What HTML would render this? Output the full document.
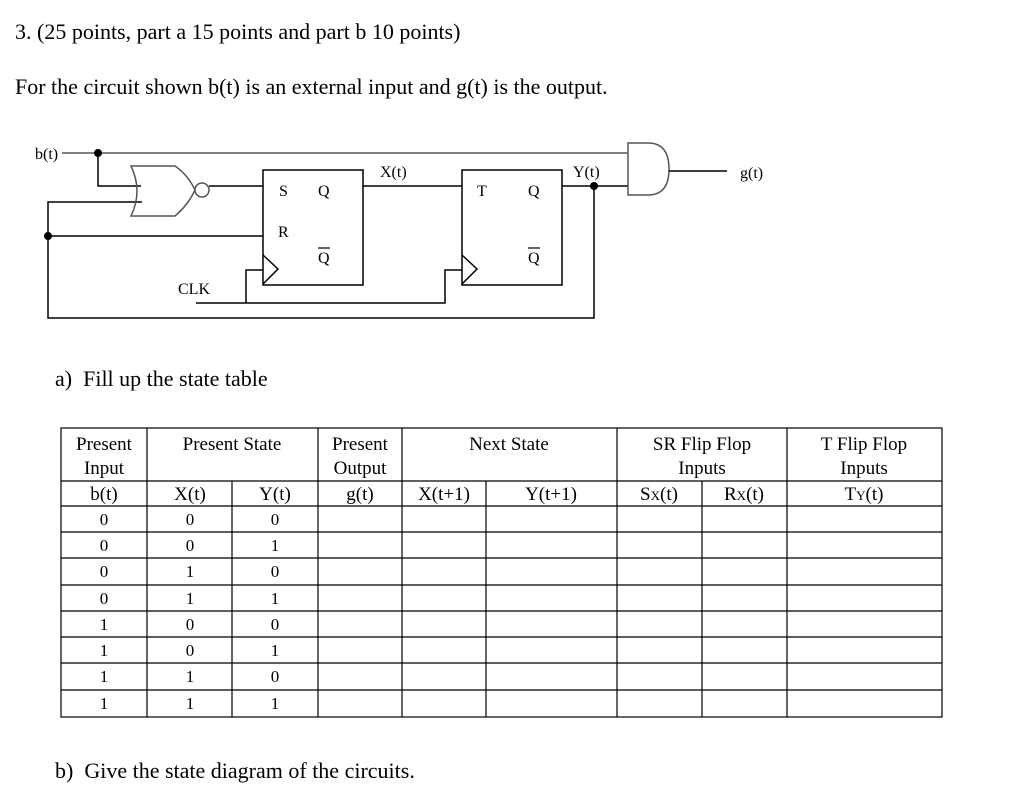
<!DOCTYPE html>
<html><head><meta charset="utf-8"><style>
html,body{margin:0;padding:0;background:#fff;}
svg, svg text{font-family:"Liberation Serif","Times New Roman","DejaVu Serif",serif !important;}
svg{display:block;}
</style></head><body>
<svg width="1024" height="807" viewBox="0 0 1024 807" xmlns="http://www.w3.org/2000/svg" font-family="Liberation Serif, Times New Roman, serif">
<g fill="#000" font-size="22">
<text x="15" y="39">3. (25 points, part a 15 points and part b 10 points)</text>
<text x="15" y="94">For the circuit shown b(t) is an external input and g(t) is the output.</text>
<text x="55" y="386">a)&#160;&#160;Fill up the state table</text>
<text x="55" y="778">b)&#160;&#160;Give the state diagram of the circuits.</text>
</g>
<!-- circuit -->
<g stroke="#000" stroke-width="1.5" fill="none">
<line x1="62" y1="153" x2="628" y2="153" stroke="#555"/>
<polyline points="98,153 98,186 141,186"/>
<polyline points="142,202 48,202 48,318 594,318 594,186"/>
<line x1="48" y1="236" x2="263" y2="236"/>
<path d="M131,166 L175,166 Q188,175 195,190 Q188,205 175,216 L131,216 Q143,191 131,166 Z" stroke="#555"/>
<circle cx="202" cy="190" r="7" stroke="#555"/>
<line x1="209" y1="186" x2="263" y2="186"/>
<rect x="263" y="170" width="100" height="115"/>
<polyline points="263,255 278,269 263,284"/>
<line x1="363" y1="186" x2="462" y2="186"/>
<rect x="462" y="170" width="100" height="115"/>
<polyline points="462,255 477,269 462,284"/>
<polyline points="196,303 445,303 445,270 462,270"/>
<polyline points="246,303 246,270 263,270"/>
<line x1="562" y1="186" x2="628" y2="186"/>
<path d="M628,143 L648,143 Q669,143 669,169 Q669,195 648,195 L628,195 Z" stroke="#555"/>
<line x1="669" y1="171" x2="727" y2="171"/>
</g>
<g fill="#000">
<circle cx="98" cy="153" r="4"/><circle cx="48" cy="236" r="4"/><circle cx="594" cy="186" r="4"/>
</g>
<g font-size="16" fill="#000">
<text x="35" y="159">b(t)</text>
<text x="279" y="196">S</text><text x="318" y="196">Q</text>
<text x="278" y="237">R</text><text x="318" y="263">Q</text>
<line x1="318" y1="248" x2="330" y2="248" stroke="#000" stroke-width="1.2"/>
<text x="380" y="177">X(t)</text>
<text x="477" y="196">T</text><text x="528" y="196">Q</text>
<text x="528" y="263">Q</text>
<line x1="528" y1="248" x2="540" y2="248" stroke="#000" stroke-width="1.2"/>
<text x="573" y="177">Y(t)</text>
<text x="740" y="178">g(t)</text>
<text x="178" y="294">CLK</text>
</g>
<!-- table -->
<g stroke="#000" stroke-width="1.2" fill="none">
<rect x="61" y="428" width="881" height="289"/>
<line x1="61" y1="481" x2="942" y2="481"/>
<line x1="61" y1="506" x2="942" y2="506"/>
<line x1="61" y1="532" x2="942" y2="532"/>
<line x1="61" y1="558" x2="942" y2="558"/>
<line x1="61" y1="585" x2="942" y2="585"/>
<line x1="61" y1="611" x2="942" y2="611"/>
<line x1="61" y1="637" x2="942" y2="637"/>
<line x1="61" y1="663" x2="942" y2="663"/>
<line x1="61" y1="690" x2="942" y2="690"/>
<line x1="147" y1="428" x2="147" y2="717"/>
<line x1="318" y1="428" x2="318" y2="717"/>
<line x1="402" y1="428" x2="402" y2="717"/>
<line x1="617" y1="428" x2="617" y2="717"/>
<line x1="787" y1="428" x2="787" y2="717"/>
<line x1="232" y1="481" x2="232" y2="717"/>
<line x1="486" y1="481" x2="486" y2="717"/>
<line x1="702" y1="481" x2="702" y2="717"/>
</g>
<g font-size="19" fill="#000" text-anchor="middle">
<text x="104" y="450">Present</text><text x="104" y="474">Input</text>
<text x="232" y="450">Present State</text>
<text x="360" y="450">Present</text><text x="360" y="474">Output</text>
<text x="509" y="450">Next State</text>
<text x="702" y="450">SR Flip Flop</text><text x="702" y="474">Inputs</text>
<text x="864" y="450">T Flip Flop</text><text x="864" y="474">Inputs</text>
<text x="104" y="500">b(t)</text><text x="190" y="500">X(t)</text><text x="275" y="500">Y(t)</text>
<text x="360" y="500">g(t)</text><text x="444" y="500">X(t+1)</text><text x="551" y="500">Y(t+1)</text>
<text x="659" y="500">S<tspan font-size="13">X</tspan>(t)</text>
<text x="744" y="500">R<tspan font-size="13">X</tspan>(t)</text>
<text x="864" y="500">T<tspan font-size="13">Y</tspan>(t)</text>
<g font-size="17">
<text x="104" y="525">0</text><text x="190" y="525">0</text><text x="275" y="525">0</text>
<text x="104" y="551">0</text><text x="190" y="551">0</text><text x="275" y="551">1</text>
<text x="104" y="577">0</text><text x="190" y="577">1</text><text x="275" y="577">0</text>
<text x="104" y="604">0</text><text x="190" y="604">1</text><text x="275" y="604">1</text>
<text x="104" y="630">1</text><text x="190" y="630">0</text><text x="275" y="630">0</text>
<text x="104" y="656">1</text><text x="190" y="656">0</text><text x="275" y="656">1</text>
<text x="104" y="682">1</text><text x="190" y="682">1</text><text x="275" y="682">0</text>
<text x="104" y="709">1</text><text x="190" y="709">1</text><text x="275" y="709">1</text>
</g>
</g>
</svg>
</body></html>
